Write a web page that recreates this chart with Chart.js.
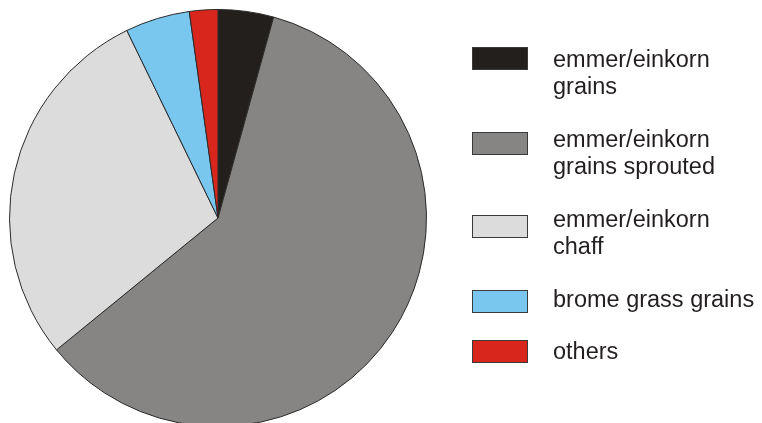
<!DOCTYPE html>
<html>
<head>
<meta charset="utf-8">
<script src="https://cdn.jsdelivr.net/npm/chart.js@4.4.0/dist/chart.umd.min.js"></script>
<style>
  html, body { margin: 0; padding: 0; background: #fff; overflow: hidden; width: 762px; height: 423px; }
  #wrap { position: absolute; left: 0; top: 0; width: 762px; height: 440px; }
  #legend { position: absolute; left: 0; top: 0; font-family: "Liberation Sans", Arial, sans-serif; font-size: 23.5px; color: #231f20; }
  .box { position: absolute; left: 472px; width: 56px; height: 23px; border: 1px solid #3a3a3a; box-sizing: border-box; }
  .txt { position: absolute; left: 553px; line-height: 26.5px; white-space: nowrap; }
</style>
</head>
<body>
<div id="wrap"><canvas id="c"></canvas></div>
<div id="legend"></div>
<script>
const categories = [
  ["emmer/einkorn", "grains"],
  ["emmer/einkorn", "grains sprouted"],
  ["emmer/einkorn", "chaff"],
  ["brome grass grains"],
  ["others"]
];
const values = [4.3, 59.8, 28.7, 5.0, 2.2];
const colors = ["#231f1c", "#868583", "#dcdcdc", "#79c6ef", "#d9261c"];
const boxTops = [47, 132, 215, 290, 340];
const textTops = [46, 126, 206, 286, 338];

new Chart(document.getElementById('c'), {
  type: 'pie',
  data: {
    labels: categories.map(l => l.join(' ')),
    datasets: [{
      data: values,
      backgroundColor: colors,
      borderColor: '#2a2a2a',
      borderWidth: 1
    }]
  },
  options: {
    responsive: true,
    maintainAspectRatio: false,
    animation: false,
    layout: { padding: { left: 9, top: 9, right: 335, bottom: 13 } },
    plugins: { legend: { display: false }, tooltip: { enabled: false } }
  }
});

const leg = document.getElementById('legend');
categories.forEach((lines, i) => {
  const b = document.createElement('div');
  b.className = 'box';
  b.style.top = boxTops[i] + 'px';
  b.style.background = colors[i];
  leg.appendChild(b);
  const t = document.createElement('div');
  t.className = 'txt';
  t.style.top = textTops[i] + 'px';
  t.innerHTML = lines.join('<br>');
  leg.appendChild(t);
});
</script>
</body>
</html>
